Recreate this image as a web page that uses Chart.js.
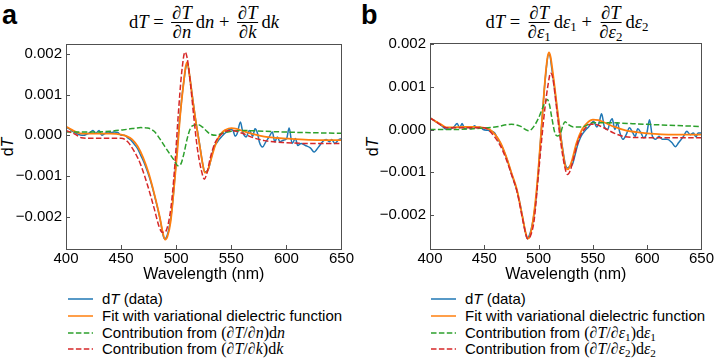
<!DOCTYPE html>
<html>
<head>
<meta charset="utf-8">
<script src="https://cdn.jsdelivr.net/npm/chart.js@4"></script>
<style>
  body { margin: 0; background: #fff; width: 719px; height: 361px; overflow: hidden; position: relative;
         font-family: "Liberation Sans", Arial, sans-serif; color: #000; }
  canvas { position: absolute; }
  .abs { position: absolute; white-space: nowrap; }
  .plabel { font-weight: bold; font-size: 27px; line-height: 27px; }
  .title { font-family: "Liberation Serif", "DejaVu Serif", serif; font-size: 18.5px; display: flex; align-items: center;
           transform: translateX(-50%); }
  .frac { display: inline-flex; flex-direction: column; align-items: center; margin: 0 3px 0 3px; line-height: 16px; }
  .frac .num { border-bottom: 1px solid #000; padding: 0 1px 1px 1px; }
  .frac .den { padding-top: 1px; }
  .title sub, .math sub { font-size: 70%; vertical-align: -3px; line-height: 0; }
  .ylab { font-size: 16px; transform: translate(-50%, -50%) rotate(-90deg); }
  .leg { font-size: 15px; height: 18px; line-height: 18px; display: flex; align-items: center; }
  .leg svg { margin-right: 9px; }
  .math { font-family: "Liberation Serif", "DejaVu Serif", serif; font-size: 16px; }
</style>
</head>
<body>
<div class="abs plabel" style="left:2px; top:2px;">a</div>
<div class="abs plabel" style="left:361px; top:2px;">b</div>

<div class="abs title" style="left:204px; top:2px; height:40px;">
  <span>d<i>T</i>&nbsp;=&nbsp;</span>
  <span class="frac"><span class="num">∂<i>T</i></span><span class="den">∂<i>n</i></span></span>
  <span>d<i>n</i>&nbsp;+&nbsp;</span>
  <span class="frac"><span class="num">∂<i>T</i></span><span class="den">∂<i>k</i></span></span>
  <span>d<i>k</i></span>
</div>
<div class="abs title" style="left:567px; top:2px; height:40px;">
  <span>d<i>T</i>&nbsp;=&nbsp;</span>
  <span class="frac"><span class="num">∂<i>T</i></span><span class="den">∂<i>ε</i><sub>1</sub></span></span>
  <span>d<i>ε</i><sub>1</sub>&nbsp;+&nbsp;</span>
  <span class="frac"><span class="num">∂<i>T</i></span><span class="den">∂<i>ε</i><sub>2</sub></span></span>
  <span>d<i>ε</i><sub>2</sub></span>
</div>

<div class="abs ylab" style="left:8px; top:147px;">d<i>T</i></div>
<div class="abs ylab" style="left:373px; top:147px;">d<i>T</i></div>

<canvas id="chartA" width="355" height="254" style="left:0; top:30px;"></canvas>
<canvas id="chartB" width="355" height="254" style="left:360px; top:30px;"></canvas>

<div id="legA"></div>
<div id="legB"></div>

<script>
// wavelength (nm) and dT values (in units of 1e-3)

// panel a: dT = dT/dn dn + dT/dk dk
const wlDataA = [400, 403, 406, 410, 413, 416, 419, 422, 424.5, 427, 430, 432.5, 435, 438, 441, 444, 447, 450, 453, 456,
  459, 462, 465, 468, 471, 474, 477, 480, 483, 486, 488, 489.5, 491, 493, 495, 497, 499, 501, 503, 505,
  507, 509, 510.5, 512, 514, 516, 518, 520, 522, 524, 526, 528, 529.5, 531, 533, 535, 537, 539, 541, 543,
  545.5, 548.5, 551.5, 553.5, 555.3, 558.3, 560.4, 563.4, 566.4, 569.4, 571.5, 573.9, 575.4, 578.4, 581.3, 584.3, 587.3, 589.4, 591.8, 594.2,
  597.2, 600.2, 602.5, 605.2, 608.2, 610.3, 613.3, 617.2, 621.7, 625.2, 629.1, 633, 636, 639, 641, 644, 647, 650];
const dTDataA = [0.2, 0.16, 0.1, 0.04, 0.01, 0.0, 0.03, 0.07, 0.12, 0.05, 0.12, 0.0, 0.04, 0.08, 0.07, 0.08, 0.07, 0.0, 0.0, -0.06,
  -0.12, -0.22, -0.33, -0.5, -0.68, -0.9, -1.15, -1.45, -1.78, -2.15, -2.45, -2.55, -2.52, -2.35, -2.05, -1.6, -0.95, -0.3, 0.35, 0.9,
  1.35, 1.7, 1.75, 1.5, 1.1, 0.7, 0.32, 0.0, -0.35, -0.7, -0.9, -0.88, -0.82, -0.65, -0.42, -0.25, -0.18, -0.1, -0.04, 0.02,
  0.08, 0.15, 0.12, -0.02, 0.04, 0.33, 0.08, -0.04, 0.12, -0.02, 0.16, 0.04, -0.16, -0.29, -0.16, -0.04, 0.08, -0.16, -0.04, -0.16,
  -0.12, -0.08, 0.18, -0.2, -0.08, -0.25, -0.2, -0.25, -0.31, -0.41, -0.29, -0.15, -0.1, -0.16, -0.1, -0.2, -0.12, -0.08];

const wlFitA = [400, 405, 410, 415, 420, 430, 440, 450, 455, 460, 465, 470, 475, 480, 485, 488, 490, 492, 495, 498,
  501, 504, 507, 508.5, 510, 512, 515, 518, 521, 524, 526, 528, 531, 535, 540, 545, 550, 555, 560, 570,
  580, 590, 600, 620, 650];
const fitA = [0.22, 0.14, 0.07, 0.04, 0.04, 0.04, 0.04, 0.02, -0.02, -0.1, -0.27, -0.55, -0.93, -1.43, -2.0, -2.42, -2.57, -2.5, -2.12, -1.3,
  -0.4, 0.6, 1.35, 1.68, 1.8, 1.5, 0.87, 0.3, -0.2, -0.7, -0.92, -0.9, -0.65, -0.28, 0.02, 0.14, 0.18, 0.16, 0.11, 0.03,
  -0.03, -0.06, -0.08, -0.11, -0.12];

const wlDnA = [400, 420, 440, 456, 468, 474, 480, 486, 492, 498, 501.5, 504, 507, 510, 513, 516, 520, 524, 527, 531,
  536, 542, 550, 560, 580, 600, 650];
const dnA = [0.08, 0.08, 0.1, 0.15, 0.19, 0.18, 0.1, -0.12, -0.37, -0.61, -0.75, -0.72, -0.45, -0.08, 0.18, 0.25, 0.26, 0.2, 0.12, 0.03,
  0.0, 0.05, 0.1, 0.12, 0.1, 0.08, 0.05];

const wlDkA = [400, 408, 414, 420, 450, 456, 460, 465, 468, 474, 480, 484.5, 487.5, 490, 493, 496, 499, 502, 505, 508,
  510, 513, 516, 519, 523, 525.5, 528, 531, 535, 540, 545, 550, 560, 570, 580, 600, 620, 650];
const dkA = [0.12, 0.03, -0.06, -0.07, -0.07, -0.16, -0.31, -0.55, -0.74, -1.23, -1.8, -2.25, -2.39, -2.38, -2.15, -1.6, -0.65, 0.55, 1.55, 2.05,
  1.9, 1.25, 0.45, -0.28, -0.88, -1.08, -0.92, -0.55, -0.2, 0.0, 0.1, 0.12, 0.05, -0.06, -0.13, -0.18, -0.2, -0.2];

// panel b: dT = dT/de1 de1 + dT/de2 de2
const wlDataB = [400, 404, 408, 412, 414.5, 417, 419, 422, 425, 427.4, 429.5, 432, 435, 438, 441, 443, 446, 449, 453.6, 456.6,
  459.6, 462, 465, 468, 471, 474, 477, 480, 483, 486, 488, 489.5, 491, 493, 495, 497.5, 500, 502.5, 505, 507,
  509, 510.5, 512, 514, 516, 518, 520, 522, 524.5, 526.5, 529, 531, 533.5, 535.6, 538, 540, 543, 546, 548.5, 550.6,
  553.6, 555.7, 558, 560.6, 563.6, 565.7, 567.8, 570.2, 572.6, 574.7, 577.7, 580.7, 583.7, 586.8, 588.9, 591.3, 594.3, 596.7, 599.7, 602.1,
  604.8, 607.8, 610.9, 613.9, 618.4, 622.9, 625.9, 628.9, 633.4, 636.5, 639.5, 642.5, 644.9, 647, 650];
const dTDataB = [0.27, 0.21, 0.14, 0.06, 0.01, 0.01, 0.01, 0.06, 0.14, 0.04, 0.14, 0.02, 0.06, 0.02, 0.09, 0.04, 0.06, 0.0, -0.02, -0.04,
  -0.08, -0.2, -0.33, -0.5, -0.7, -0.95, -1.18, -1.42, -1.75, -2.15, -2.42, -2.55, -2.5, -2.35, -2.1, -1.65, -0.9, 0.0, 0.85, 1.4,
  1.76, 1.72, 1.45, 1.1, 0.7, 0.3, -0.05, -0.42, -0.8, -0.9, -0.85, -0.82, -0.6, -0.39, -0.22, -0.12, -0.02, 0.06, 0.14, 0.19,
  0.06, 0.16, 0.37, 0.06, 0.0, 0.17, 0.25, 0.0, 0.16, -0.06, -0.23, -0.12, 0.04, -0.08, -0.16, 0.02, -0.08, -0.19, -0.08, 0.23,
  -0.16, -0.23, -0.16, -0.23, -0.23, -0.31, -0.4, -0.31, -0.16, -0.04, -0.12, -0.08, -0.17, -0.08, -0.08];

const wlFitB = [400, 405, 410, 415, 420, 430, 440, 450, 455, 460, 465, 470, 475, 480, 485, 488, 490, 492, 495, 498,
  500, 503, 506, 508, 509.5, 511, 513, 515, 518, 522, 525, 527, 530, 535, 540, 545, 550, 555, 560, 570,
  580, 590, 600, 625, 650];
const fitB = [0.27, 0.19, 0.12, 0.05, 0.05, 0.06, 0.06, 0.04, 0.0, -0.12, -0.31, -0.62, -1.01, -1.4, -2.02, -2.4, -2.55, -2.49, -2.1, -1.45,
  -0.86, 0.16, 1.17, 1.65, 1.8, 1.7, 1.35, 0.95, 0.31, -0.47, -0.89, -0.93, -0.78, -0.31, 0.0, 0.16, 0.23, 0.22, 0.17, 0.06,
  -0.02, -0.06, -0.09, -0.12, -0.12];

const wlDe1B = [400, 420, 440, 460, 475, 483, 488, 491, 495, 500, 505, 508, 510, 512, 515, 517.5, 520, 522.5, 524.5, 527,
  532, 540, 550, 560, 600, 650];
const de1B = [0.0, 0.0, 0.02, 0.06, 0.12, 0.08, 0.0, -0.03, 0.05, 0.27, 0.58, 0.7, 0.58, 0.3, -0.08, -0.15, -0.1, 0.1, 0.18, 0.12,
  0.06, 0.06, 0.16, 0.16, 0.12, 0.07];

const wlDe2B = [400, 405, 410, 415, 420, 450, 455, 460, 465, 470, 475, 480, 485, 488, 490, 493, 496, 500, 503, 506,
  509, 511, 513, 516, 520, 524, 526.5, 529, 532, 537, 542, 548, 552, 560, 570, 580, 600, 650];
const de2B = [0.27, 0.19, 0.1, 0.04, 0.04, 0.04, -0.04, -0.19, -0.39, -0.68, -1.05, -1.44, -2.06, -2.42, -2.55, -2.45, -2.1, -1.01, -0.19, 0.54,
  1.09, 1.32, 1.21, 0.62, -0.23, -0.86, -1.05, -0.97, -0.7, -0.23, 0.0, 0.12, 0.12, 0.04, -0.09, -0.17, -0.19, -0.19];

const xTicks = [400, 450, 500, 550, 600, 650];
const yTicks = [-2, -1, 0, 1, 2];

const colors = { data: '#1f77b4', fit: '#ff7f0e', c1: '#2ca02c', c2: '#d62728' };
const dash = [5.5, 2.4];
const font = "'Liberation Sans', Arial, sans-serif";

function pts(xs, ys) {
  return xs.map((x, i) => ({ x: x, y: ys[i] }));
}

const frame = {
  id: 'frame',
  afterDraw(chart) {
    const { ctx, chartArea: a, scales } = chart;
    ctx.save();
    ctx.strokeStyle = '#505050';
    ctx.lineWidth = 1;
    ctx.strokeRect(Math.round(a.left) + 0.5, Math.round(a.top) + 0.5, Math.round(a.right - a.left), Math.round(a.bottom - a.top));
    ctx.beginPath();
    scales.x.ticks.forEach(t => {
      const px = Math.round(scales.x.getPixelForValue(t.value)) + 0.5;
      ctx.moveTo(px, a.bottom);
      ctx.lineTo(px, a.bottom - 4);
    });
    scales.y.ticks.forEach(t => {
      const py = Math.round(scales.y.getPixelForValue(t.value)) + 0.5;
      ctx.moveTo(a.left, py);
      ctx.lineTo(a.left + 4, py);
    });
    ctx.stroke();
    ctx.restore();
  }
};

function makeChart(id, sets, yMin, yMax, yWidth, padTop, padRight) {
  const ds = [
    { data: pts(sets[0][0], sets[0][1]), borderColor: colors.data, borderWidth: 1.5, order: 4 },
    { data: pts(sets[1][0], sets[1][1]), borderColor: colors.fit, borderWidth: 1.8, order: 3 },
    { data: pts(sets[2][0], sets[2][1]), borderColor: colors.c1, borderWidth: 1.5, borderDash: dash, order: 2 },
    { data: pts(sets[3][0], sets[3][1]), borderColor: colors.c2, borderWidth: 1.5, borderDash: dash, order: 1 }
  ];
  ds.forEach(d => { d.pointRadius = 0; d.cubicInterpolationMode = 'monotone'; d.fill = false; });
  return new Chart(document.getElementById(id), {
    type: 'line',
    data: { datasets: ds },
    options: {
      responsive: false,
      animation: false,
      devicePixelRatio: 1,
      layout: { padding: { top: padTop, right: padRight, left: 0, bottom: 0 } },
      plugins: { legend: { display: false }, tooltip: { enabled: false } },
      scales: {
        x: {
          type: 'linear', min: 400, max: 650,
          grid: { display: false, drawTicks: false },
          border: { display: false },
          afterBuildTicks: s => { s.ticks = xTicks.map(v => ({ value: v })); },
          afterFit: s => { s.height = 35; },
          ticks: { padding: 1, maxRotation: 0, autoSkip: false, color: '#000', font: { family: font, size: 15 } },
          title: { display: true, text: 'Wavelength (nm)', color: '#000', padding: 0, font: { family: font, size: 16 } }
        },
        y: {
          type: 'linear', min: yMin, max: yMax,
          grid: { display: false, drawTicks: false },
          border: { display: false },
          afterBuildTicks: s => { s.ticks = yTicks.map(v => ({ value: v })); },
          afterFit: s => { s.width = yWidth; },
          ticks: {
            padding: 4, color: '#000', font: { family: font, size: 15 },
            callback: v => (v * 0.001).toFixed(3).replace('-', '\u2212')
          }
        }
      }
    },
    plugins: [frame]
  });
}

makeChart('chartA', [[wlDataA, dTDataA], [wlFitA, fitA], [wlDnA, dnA], [wlDkA, dkA]], -2.8, 2.25, 66, 14, 10);
makeChart('chartB', [[wlDataB, dTDataB], [wlFitB, fitB], [wlDe1B, de1B], [wlDe2B, de2B]], -2.79, 2.02, 70, 13, 8);

// legends
const legA = [
  [colors.data, false, 'd<i>T</i> (data)'],
  [colors.fit, false, 'Fit with variational dielectric function'],
  [colors.c1, true, 'Contribution from <span class="math">(∂<i>T</i>/∂<i>n</i>)d<i>n</i></span>'],
  [colors.c2, true, 'Contribution from <span class="math">(∂<i>T</i>/∂<i>k</i>)d<i>k</i></span>']
];
const legB = [
  [colors.data, false, 'd<i>T</i> (data)'],
  [colors.fit, false, 'Fit with variational dielectric function'],
  [colors.c1, true, 'Contribution from <span class="math">(∂<i>T</i>/∂<i>ε</i><sub>1</sub>)d<i>ε</i><sub>1</sub></span>'],
  [colors.c2, true, 'Contribution from <span class="math">(∂<i>T</i>/∂<i>ε</i><sub>2</sub>)d<i>ε</i><sub>2</sub></span>']
];
const rowY = [299.3, 316, 332.7, 349.3];

function drawLegend(el, items, left) {
  items.forEach((it, i) => {
    const row = document.createElement('div');
    row.className = 'abs leg';
    row.style.left = left + 'px';
    row.style.top = (rowY[i] - 9) + 'px';
    const da = it[1] ? ' stroke-dasharray="5.5 2.4"' : '';
    row.innerHTML = '<svg width="25" height="6"><line x1="0" y1="3" x2="25" y2="3" stroke="' + it[0] +
      '" stroke-width="1.5"' + da + '/></svg><span>' + it[2] + '</span>';
    el.appendChild(row);
  });
}
drawLegend(document.getElementById('legA'), legA, 68);
drawLegend(document.getElementById('legB'), legB, 431);
</script>
</body>
</html>
